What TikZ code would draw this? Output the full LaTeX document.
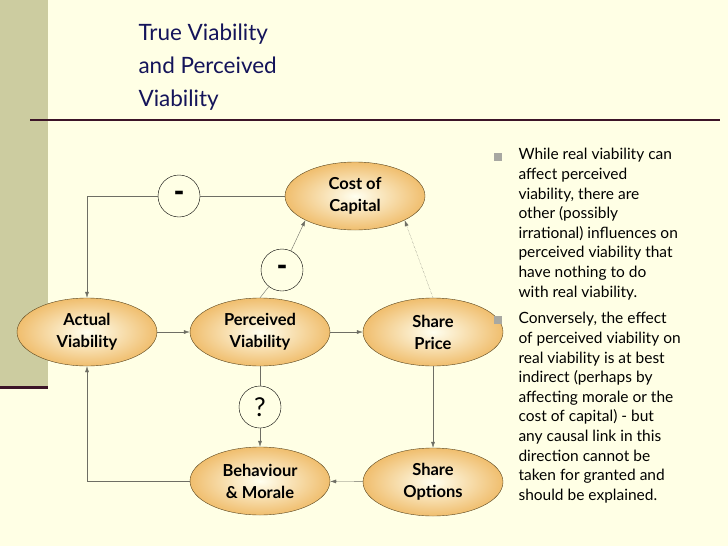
\documentclass[tikz,border=0pt]{standalone}
\usepackage{fontspec}
\setmainfont{Lato}
\newfontfamily\heavyfont{Lato Black}
\usetikzlibrary{arrows.meta,positioning,shapes.geometric}
\definecolor{slidebg}{RGB}{255,255,229}
\definecolor{sidebar}{RGB}{204,204,160}
\definecolor{darkline}{RGB}{60,20,40}
\definecolor{titleblue}{RGB}{20,20,90}
\definecolor{ovalrim}{RGB}{90,70,30}
\definecolor{ovaledge}{RGB}{240,190,110}
\definecolor{linkgrey}{RGB}{110,110,100}

\tikzset{
  oval/.style={ellipse, draw=ovalrim, thin, minimum width=140pt, minimum height=68pt,
    inner color=yellow!6, outer color=ovaledge, align=center,
    font=\fontsize{16.5}{22}\selectfont\bfseries},
  signcircle/.style={circle, draw=black, thin, fill=slidebg, minimum size=42pt, inner sep=0pt},
  link/.style={draw=linkgrey, thin, -{Latex[length=6pt,width=4pt]}},
  bulletline/.style={anchor=north west, align=left, font=\fontsize{15.5}{19.6}\selectfont}
}

\begin{document}
\begin{tikzpicture}[x=1pt,y=-1pt]
% slide background
\fill[slidebg] (0,0) rectangle (728,546);
\useasboundingbox (0,0) rectangle (728,546);
\fill[sidebar] (0,0) rectangle (48,387);
\fill[darkline] (0,386) rectangle (48,389);
\draw[darkline, line width=1.5pt] (30,120) -- (720,120);
% title
\node[anchor=north west, align=left, text=titleblue, font=\fontsize{22.5}{33}\selectfont]
  at (135,20) {True Viability\\and Perceived\\Viability};

% ovals
\node[oval] (actual) at (87,332) {Actual\\Viability};
\node[oval] (perceived) at (260,332) {Perceived\\Viability};
\node[oval] (price) at (433,332) {Share\\Price};
\node[oval] (capital) at (355,196) {Cost of\\Capital};
\node[oval] (behaviour) at (260,481) {Behaviour\\\& Morale};
\node[oval] (options) at (433,482) {Share\\Options};

% sign circles
\node[signcircle, font=\heavyfont\fontsize{28}{28}\selectfont] (minusA) at (179,196) {-};
\node[signcircle, font=\heavyfont\fontsize{28}{28}\selectfont] (minusB) at (282,270) {-};
\node[signcircle, font=\rmfamily\fontsize{26}{26}\selectfont] (query) at (260,407) {?};

% links
\draw[draw=linkgrey, thin] (capital.west) -- (minusA.east);
\draw[link] (minusA.west) -| (actual.north);
\draw[draw=linkgrey, thin] (perceived.north) -- (minusB);
\draw[link] (minusB) -- (capital.south west);
\draw[link, densely dotted] (price.north) -- (capital.south east);
\draw[link] (actual) -- (perceived);
\draw[link] (perceived) -- (price);
\draw[link] (price) -- (options);
\draw[link] (options) -- (behaviour);
\draw[link] (behaviour.west) -| (actual.south);
\draw[draw=linkgrey, thin] (perceived.south) -- (query);
\draw[link] (query) -- (behaviour.north);

% bullet text
\fill[linkgrey!60] (494,153) rectangle (502,161);
\fill[linkgrey!60] (494,316) rectangle (502,324);
\node[bulletline] (textA) at (515,145) {While real viability can\\affect perceived\\viability, there are\\other (possibly\\irrational) influences on\\perceived viability that\\have nothing to do\\with real viability.};
\node[bulletline] (textB) at (515,309) {Conversely, the effect\\of perceived viability on\\real viability is at best\\indirect (perhaps by\\affecting morale or the\\cost of capital) - but\\any causal link in this\\direction cannot be\\taken for granted and\\should be explained.};
\end{tikzpicture}
\end{document}
